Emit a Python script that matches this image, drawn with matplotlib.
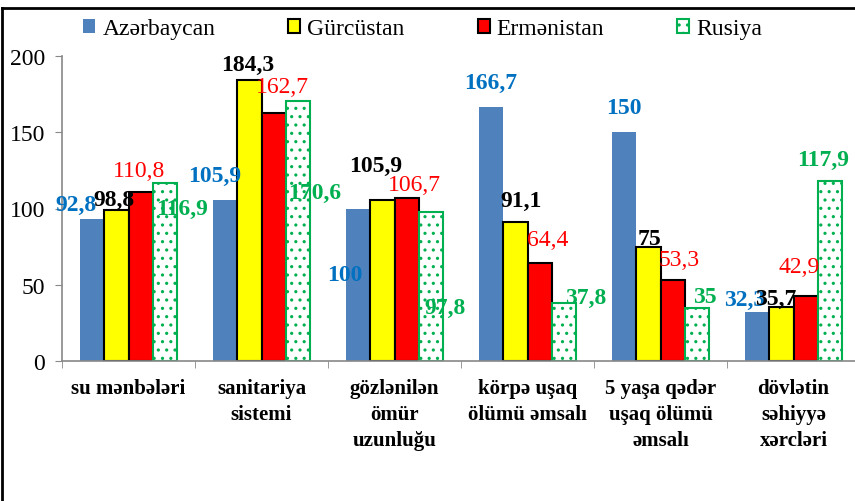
import matplotlib
matplotlib.use('Agg')
import matplotlib.pyplot as plt
import numpy as np

# data
categories = ['su mənbələri', 'sanitariya\nsistemi', 'gözlənilən\nömür\nuzunluğu',
              'körpə uşaq\nölümü əmsalı', '5 yaşa qədər\nuşaq ölümü\nəmsalı',
              'dövlətin\nsəhiyyə\nxərcləri']
series_names = ['Azərbaycan', 'Gürcüstan', 'Ermənistan', 'Rusiya']
azerbaycan = [92.8, 105.9, 100, 166.7, 150, 32.3]
gurcustan = [98.8, 184.3, 105.9, 91.1, 75, 35.7]
ermenistan = [110.8, 162.7, 106.7, 64.4, 53.3, 42.9]
rusiya = [116.9, 170.6, 97.8, 37.8, 35, 117.9]
label_texts = [
    ['92,8', '105,9', '100', '166,7', '150', '32,3'],
    ['98,8', '184,3', '105,9', '91,1', '75', '35,7'],
    ['110,8', '162,7', '106,7', '64,4', '53,3', '42,9'],
    ['116,9', '170,6', '97,8', '37,8', '35', '117,9'],
]

# label placement (moved by hand in the original), offsets from bar top
label_dx = [
    [-0.117, -0.075, -0.098, 0.0, 0.0, -0.094],
    [-0.015, -0.015, -0.053, 0.045, 0.008, -0.042],
    [-0.015, 0.068, 0.06, 0.057, 0.045, -0.05],
    [0.128, 0.128, 0.105, 0.162, 0.06, -0.052],
]
label_dy = [
    [10, 16, -43, 16, 16, 8],
    [7, 10, 22, 14, 5, 5],
    [14, 17, 9, 15, 13, 19],
    [-17, -60, -63, 4, 7, 14],
]

serif = ['Liberation Serif', 'DejaVu Serif']
plt.rcParams['font.family'] = serif
plt.rcParams['hatch.linewidth'] = 1.1

fig = plt.figure(figsize=(8.55, 5.02), dpi=100)
ax = fig.add_axes([62 / 855, 1 - 362 / 502, 798 / 855, 305 / 502])

x = np.arange(len(categories))
w = 0.183
values = [azerbaycan, gurcustan, ermenistan, rusiya]
styles = [
    dict(color='#4F81BD', edgecolor='none'),
    dict(color='#FFFF00', edgecolor='black', linewidth=1.5),
    dict(color='#FF0000', edgecolor='black', linewidth=1.5),
    dict(facecolor='white', edgecolor='#00B050', linewidth=1.5, hatch='..'),
]
label_colors = ['#0070C0', 'black', '#FF0000', '#00B050']
label_weights = ['bold', 'bold', 'normal', 'bold']

bars = []
for i in range(4):
    b = ax.bar(x + (i - 1.5) * w, values[i], w, label=series_names[i], zorder=2, **styles[i])
    bars.append(b)

for i in range(4):
    for j in range(len(categories)):
        ax.text(x[j] + (i - 1.5) * w + label_dx[i][j], values[i][j] + label_dy[i][j],
                label_texts[i][j], ha='center', va='center', fontsize=17,
                color=label_colors[i], fontweight=label_weights[i], zorder=5)

ax.set_xlim(-0.5, len(categories) - 0.5)
ax.set_ylim(0, 200)
ax.set_yticks([0, 50, 100, 150, 200])
ax.tick_params(axis='y', labelsize=17, length=5, color='#888888', pad=7)
ax.set_xticks(x)
ax.set_xticklabels(categories, fontsize=15, fontweight='bold', linespacing=1.4)
ax.tick_params(axis='x', length=0, pad=12)
ax.set_xticks(np.arange(-0.5, len(categories)), minor=True)
ax.tick_params(axis='x', which='minor', length=5, color='#888888')
for s in ['top', 'right']:
    ax.spines[s].set_visible(False)
ax.spines['left'].set_color('#888888')
ax.spines['bottom'].set_color('#888888')
ax.spines['left'].set_linewidth(1.2)
ax.spines['bottom'].set_linewidth(1.2)

fig.legend(handles=bars, loc='center left', bbox_to_anchor=(74 / 855, 1 - 30 / 502),
           ncol=4, frameon=False, fontsize=17, handlelength=0.5, handleheight=0.5,
           handletextpad=0.3, columnspacing=3.1, borderaxespad=0)

# outer chart frame (cropped)
fig.add_artist(plt.Line2D([2 / 855, 1], [1 - 9 / 502, 1 - 9 / 502], color='black', lw=2))
fig.add_artist(plt.Line2D([2 / 855, 2 / 855], [0, 1 - 9 / 502], color='black', lw=2))

fig.savefig('out.png', dpi=100)
